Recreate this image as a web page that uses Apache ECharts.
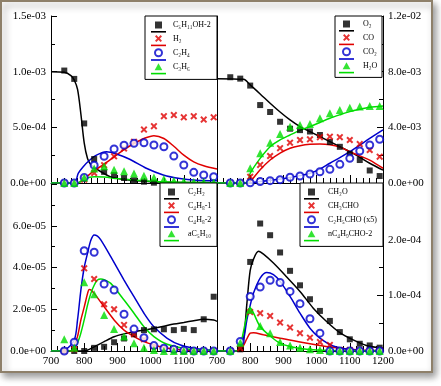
<!DOCTYPE html>
<html><head><meta charset="utf-8">
<script src="https://cdn.jsdelivr.net/npm/echarts@6/dist/echarts.min.js"></script>
<style>html,body{margin:0;padding:0;background:#fff}#c{width:441px;height:386px}</style>
</head><body><div id="c"></div>
<script>
// ---------- data ----------
const T_exp = [740,770,800,830,860,890,920,950,980,1010,1040,1070,1100,1130,1160,1190];
const xRange = [700, 1200];

// Panel A (top-left)
const A_C5_exp   = [1.01e-3,9.35e-4,5.35e-4,2.15e-4,1.0e-4,7.2e-5,4.5e-5,2.5e-5,1.2e-5,3e-6,null,null,null,null,null,null];
const A_H2_exp   = [0,0,3e-5,9e-5,1.6e-4,2.4e-4,3.1e-4,3.7e-4,4.8e-4,5.1e-4,6.0e-4,6.1e-4,5.9e-4,6.0e-4,5.7e-4,5.9e-4];
const A_C2H4_exp = [0,0,5e-5,1.6e-4,2.4e-4,3.05e-4,3.4e-4,3.56e-4,3.62e-4,3.41e-4,3.26e-4,2.42e-4,1.62e-4,9.6e-5,7.2e-5,5.7e-5];
const A_C3H6_exp = [0,0,5e-5,1.3e-4,1.5e-4,1.2e-4,1.05e-4,8.5e-5,6.5e-5,5e-5,3.5e-5,2e-5,1.5e-5,1e-5,1e-5,5e-6];
const A_C5_T     = [700,740,760,770,780,790,800,810,820,840,880,920,960,1000,1100,1200];
const A_C5_mod   = [1.0e-3,9.95e-4,9.65e-4,9.25e-4,8.4e-4,6.2e-4,3.6e-4,2.2e-4,1.65e-4,1.2e-4,5.5e-5,3.2e-5,2e-5,1.2e-5,5e-6,2e-6];
const A_H2_T     = [700,780,800,830,860,890,920,950,980,1010,1040,1070,1100,1130,1160,1200];
const A_H2_mod   = [0,0,4e-5,1.1e-4,1.7e-4,2.35e-4,3.0e-4,3.55e-4,4.0e-4,4.25e-4,4.0e-4,3.3e-4,2.5e-4,1.9e-4,1.55e-4,1.25e-4];
const A_C2H4_T   = [700,770,782,797,817,837,867,897,937,987,1038,1088,1138,1200];
const A_C2H4_mod = [0,0,8.7e-5,1.47e-4,2.07e-4,2.5e-4,2.8e-4,2.6e-4,2.13e-4,1.32e-4,7.2e-5,4e-5,2.5e-5,2e-5];
const A_C3H6_T   = [700,780,800,830,860,900,950,1000,1050,1100,1200];
const A_C3H6_mod = [0,0,3.5e-5,5.6e-5,5.3e-5,4e-5,2.7e-5,1.6e-5,9e-6,5e-6,2e-6];

// Panel B (top-right)
const B_O2_exp  = [7.6e-3,7.5e-3,7.0e-3,5.6e-3,5.1e-3,4.4e-3,3.9e-3,3.8e-3,3.7e-3,3.45e-3,2.95e-3,2.6e-3,2.1e-3,1.65e-3,0.9e-3,0.5e-3];
const B_CO_exp  = [0,0,4.5e-4,1.3e-3,1.94e-3,2.5e-3,2.9e-3,3.09e-3,3.14e-3,3.29e-3,3.33e-3,3.29e-3,3.09e-3,2.8e-3,2.37e-3,1.89e-3];
const B_CO2_exp = [0,0,2e-5,1e-4,1.7e-4,2.4e-4,4.1e-4,5e-4,6.5e-4,8.1e-4,9.8e-4,1.34e-3,1.77e-3,2.3e-3,2.73e-3,3.14e-3];
const B_H2O_exp = [0,0,1.06e-3,2.13e-3,2.9e-3,3.52e-3,4.05e-3,4.17e-3,4.24e-3,4.65e-3,5.01e-3,5.25e-3,5.41e-3,5.49e-3,5.54e-3,5.54e-3];
const B_O2_T    = [700,780,800,830,860,890,920,950,980,1010,1040,1070,1100,1130,1160,1200];
const B_O2_mod  = [7.5e-3,7.45e-3,7.05e-3,6.4e-3,5.73e-3,5.1e-3,4.53e-3,4.05e-3,3.69e-3,3.33e-3,2.97e-3,2.61e-3,2.25e-3,1.85e-3,1.42e-3,0.93e-3];
const B_CO_T    = [700,790,800,830,860,890,920,950,980,1010,1040,1070,1100,1130,1160,1200];
const B_CO_mod  = [0,0,1e-4,9.5e-4,1.65e-3,2.15e-3,2.5e-3,2.68e-3,2.78e-3,2.8e-3,2.75e-3,2.58e-3,2.25e-3,1.95e-3,1.65e-3,1.06e-3];
const B_CO2_T   = [700,790,830,880,920,950,980,1010,1040,1070,1100,1130,1160,1200];
const B_CO2_mod = [0,0,1e-4,2.5e-4,4e-4,5.3e-4,7e-4,1.0e-3,1.42e-3,1.82e-3,2.25e-3,2.72e-3,3.2e-3,3.81e-3];
const B_H2O_T   = [700,790,800,830,860,890,920,950,980,1010,1040,1070,1100,1130,1160,1200];
const B_H2O_mod = [0,0,7e-4,1.77e-3,2.61e-3,3.1e-3,3.45e-3,3.78e-3,4.05e-3,4.35e-3,4.65e-3,4.9e-3,5.13e-3,5.3e-3,5.44e-3,5.54e-3];

// Panel C (bottom-left)
const C_C2H2_exp  = [0,0,0,1.5e-6,2e-6,4.2e-6,6e-6,8e-6,1.0e-5,1.04e-5,1.04e-5,1.0e-5,1.06e-5,1.0e-5,1.52e-5,2.6e-5];
const C_C4H81_exp = [0,8e-7,3.96e-5,3.45e-5,2.24e-5,2.0e-5,1.25e-5,8.1e-6,5.6e-6,2.4e-6,1.3e-6,5e-7,0,0,0,0];
const C_C4H82_exp = [0,4.2e-6,4.8e-5,4.73e-5,3.21e-5,2.92e-5,1.76e-5,1.05e-5,6.4e-6,2.6e-6,1.3e-6,8e-7,3e-7,0,0,0];
const C_aC5_exp   = [5.6e-6,1.6e-6,3.29e-5,2.72e-5,1.72e-5,1.05e-5,6.9e-6,3.7e-6,1.6e-6,5e-7,0,0,0,0,0,0];
const C_C2H2_T    = [700,800,830,860,890,920,950,980,1010,1040,1070,1100,1130,1160,1190,1200];
const C_C2H2_mod  = [0,0,2e-6,4.5e-6,6.8e-6,8.2e-6,9.2e-6,1.0e-5,1.09e-5,1.19e-5,1.29e-5,1.37e-5,1.45e-5,1.52e-5,1.48e-5,1.42e-5];
const C_C4H81_T   = [700,760,770,780,790,800,810,815,820,830,860,890,920,950,980,1010,1040,1070,1100,1150,1200];
const C_C4H81_mod = [0,0,2.9e-6,7e-6,1.49e-5,2.1e-5,2.75e-5,2.95e-5,2.93e-5,2.76e-5,2.12e-5,1.49e-5,1.0e-5,6.9e-6,4.5e-6,2.9e-6,1.7e-6,1.0e-6,5e-7,2e-7,1e-7];
const C_C4H82_T   = [700,740,770,780,790,800,810,820,830,840,850,880,920,950,980,1010,1050,1090,1150,1200];
const C_C4H82_mod = [0,5e-7,5.3e-6,1.5e-5,2.92e-5,4.0e-5,4.68e-5,5.3e-5,5.56e-5,5.5e-5,5.32e-5,4.52e-5,3.4e-5,2.6e-5,1.81e-5,1.16e-5,6.1e-6,2.9e-6,8e-7,2e-7];
const C_aC5_T     = [700,760,770,785,800,810,820,830,840,850,860,880,920,950,980,1010,1050,1110,1200];
const C_aC5_mod   = [0,0,1e-6,6e-6,1.49e-5,2.2e-5,2.76e-5,3.15e-5,3.4e-5,3.45e-5,3.42e-5,3.24e-5,2.44e-5,1.81e-5,1.16e-5,6.9e-6,3.2e-6,1e-6,2e-7];

// Panel D (bottom-right)
const D_CH2O_exp   = [0,3e-6,1.6e-4,2.29e-4,2.08e-4,1.77e-4,1.44e-4,1.18e-4,9.3e-5,7.2e-5,5.4e-5,3.4e-5,2.1e-5,1.3e-5,1.0e-5,6e-6];
const D_CH3CHO_exp = [0,5e-6,7e-5,6.8e-5,6.3e-5,5.1e-5,4.2e-5,3.2e-5,2.4e-5,1.6e-5,1.1e-5,2e-6,2e-6,1e-6,1e-6,1e-6];
const D_C2H5_exp   = [0,1.7e-5,9.8e-5,1.15e-4,1.27e-4,1.23e-4,1.07e-4,8.5e-5,5.8e-5,3.2e-5,0,0,0,0,0,0];
const D_nC4_exp    = [0,1.5e-5,7.4e-5,4.5e-5,3.2e-5,1.6e-5,1.0e-5,6e-6,3e-6,2e-6,0,0,0,0,0,0];
const D_CH2O_T     = [700,760,770,780,790,800,810,825,840,870,910,950,990,1030,1070,1110,1150,1200];
const D_CH2O_mod   = [0,0,1e-6,2e-5,8.5e-5,1.45e-4,1.65e-4,1.79e-4,1.74e-4,1.58e-4,1.33e-4,1.07e-4,7.7e-5,5.3e-5,3.3e-5,2e-5,1e-5,5e-6];
const D_CH3CHO_T   = [700,770,780,790,800,810,840,890,950,1010,1070,1130,1200];
const D_CH3CHO_mod = [0,0,1e-5,2.2e-5,3.2e-5,3.3e-5,2.9e-5,2.3e-5,1.6e-5,1.0e-5,5e-6,2e-6,1e-6];
const D_C2H5_T     = [700,760,770,780,790,800,810,830,850,870,890,920,950,980,1010,1050,1110,1200];
const D_C2H5_mod   = [0,0,5e-6,2e-5,5.6e-5,8.2e-5,1.04e-4,1.31e-4,1.41e-4,1.37e-4,1.25e-4,9.8e-5,6.8e-5,4.1e-5,2.3e-5,9e-6,2e-6,0];
const D_nC4_T      = [700,760,770,785,795,800,810,830,860,890,920,970,1040,1200];
const D_nC4_mod    = [0,0,1e-5,5e-5,7.5e-5,7.7e-5,6.8e-5,4.4e-5,2.7e-5,1.4e-5,8e-6,3e-6,1e-6,0];

// axis ranges (min, max, interval)
const yA = [0, 1.5e-3, 5e-4];
const yB = [0, 1.2e-2, 4e-3];
const yC = [0, 8e-5, 2e-5];
const yD = [0, 3e-4, 1e-4];

// ---------- styling ----------
const FONT = '"Liberation Serif","DejaVu Serif",serif';
const BLACK = '#000000', RED = '#e00000', BLUE = '#0000cc', GREEN = '#00dd00';
const XPATH = 'path://M0,2L2,0L5,3L8,0L10,2L7,5L10,8L8,10L5,7L2,10L0,8L3,5Z';
const SYM = {
  sq:  {series:'rect', size:6, legend:'path://M0,0h10v10h-10z'},
  x:   {series:XPATH, size:7, legend:XPATH},
  ci:  {series:'emptyCircle', size:7, legend:'emptyCircle'},
  tri: {series:'triangle', size:8, legend:'path://M5,0L10,9L0,9Z'}
};
const LINE_ICON = 'path://M0,0h15v1.6h-15z';

function pairs(T, V){ const out=[]; T.forEach((t,i)=>{ if(V[i]!=null) out.push([t,V[i]]); }); return out; }
function fmtExp(v){
  const s = Number(v).toExponential(1);
  return s.replace(/e([+-])(\d+)$/, (m, sg, d) => 'e' + sg + (d.length < 2 ? '0' + d : d));
}

const panels = [
  {species:[
    {name:'C₅H₁₁OH-2', color:BLACK, sym:'sq',  exp:A_C5_exp,   T:A_C5_T,   mod:A_C5_mod},
    {name:'H₂',        color:RED,   sym:'x',   exp:A_H2_exp,   T:A_H2_T,   mod:A_H2_mod},
    {name:'C₂H₄',      color:BLUE,  sym:'ci',  exp:A_C2H4_exp, T:A_C2H4_T, mod:A_C2H4_mod},
    {name:'C₃H₆',      color:GREEN, sym:'tri', exp:A_C3H6_exp, T:A_C3H6_T, mod:A_C3H6_mod}],
   legend:{left:145, top:16, pad:[5,3,5,6], tp:2, w:41}},
  {species:[
    {name:'O₂',  color:BLACK, sym:'sq',  exp:B_O2_exp,  T:B_O2_T,  mod:B_O2_mod},
    {name:'CO',  color:RED,   sym:'x',   exp:B_CO_exp,  T:B_CO_T,  mod:B_CO_mod},
    {name:'CO₂', color:BLUE,  sym:'ci',  exp:B_CO2_exp, T:B_CO2_T, mod:B_CO2_mod},
    {name:'H₂O', color:GREEN, sym:'tri', exp:B_H2O_exp, T:B_H2O_T, mod:B_H2O_mod}],
   legend:{left:335, top:16, pad:[4,2,4,4], tp:4, w:17}},
  {species:[
    {name:'C₂H₂',   color:BLACK, sym:'sq',  exp:C_C2H2_exp,  T:C_C2H2_T,  mod:C_C2H2_mod},
    {name:'C₄H₈-1', color:RED,   sym:'x',   exp:C_C4H81_exp, T:C_C4H81_T, mod:C_C4H81_mod},
    {name:'C₄H₈-2', color:BLUE,  sym:'ci',  exp:C_C4H82_exp, T:C_C4H82_T, mod:C_C4H82_mod},
    {name:'aC₅H₁₀', color:GREEN, sym:'tri', exp:C_aC5_exp,   T:C_aC5_T,   mod:C_aC5_mod}],
   legend:{left:160, top:183, pad:[5,2,5,4], tp:4, w:27}},
  {species:[
    {name:'CH₂O',          color:BLACK, sym:'sq',  exp:D_CH2O_exp,   T:D_CH2O_T,   mod:D_CH2O_mod},
    {name:'CH₃CHO',        color:RED,   sym:'x',   exp:D_CH3CHO_exp, T:D_CH3CHO_T, mod:D_CH3CHO_mod},
    {name:'C₂H₅CHO (x5)',  color:BLUE,  sym:'ci',  exp:D_C2H5_exp,   T:D_C2H5_T,   mod:D_C2H5_mod},
    {name:'nC₄H₉CHO-2',    color:GREEN, sym:'tri', exp:D_nC4_exp,    T:D_nC4_T,    mod:D_nC4_mod}],
   legend:{left:300, top:183, pad:[5,3,5,4], tp:4, w:52}}
];

const grids = [
  {left:51,  top:16,  width:166, height:167},
  {left:217, top:16,  width:166, height:167},
  {left:51,  top:184, width:166, height:167},
  {left:217, top:184, width:166, height:167}
];

function xAx(gi, showLabel, hideMax){
  return {type:'value', gridIndex:gi, min:xRange[0], max:xRange[1], interval:100,
    axisLine:{show:true, onZero:false, lineStyle:{color:'#000', width:1}},
    axisTick:{show:true, inside:true, length:8, lineStyle:{color:'#000', width:1}},
    minorTick:{show:true, splitNumber:5, length:5, lineStyle:{color:'#000', width:1}},
    splitLine:{show:false}, minorSplitLine:{show:false},
    axisLabel:{show:showLabel, showMaxLabel: hideMax ? false : true, showMinLabel:true,
      formatter: v => String(Math.round(v)),
      color:'#000', fontFamily:FONT, fontSize:11, margin:5}};
}
function yAx(gi, pos, r, hideMax){
  return {type:'value', gridIndex:gi, position:pos, min:r[0], max:r[1], interval:r[2],
    axisLine:{show:true, onZero:false, lineStyle:{color:'#000', width:1}},
    axisTick:{show:true, inside:true, length:6, lineStyle:{color:'#000', width:1}},
    minorTick:{show:true, splitNumber:2, length:4, lineStyle:{color:'#000', width:1}},
    splitLine:{show:false}, minorSplitLine:{show:false},
    axisLabel:{show:true, showMaxLabel: hideMax ? false : true, formatter:fmtExp,
      color:'#000', fontFamily:FONT, fontSize:11, margin:5}};
}
function edgeAx(gi){
  return {type:'value', gridIndex:gi, position:'right', min:0, max:1,
    axisLine:{show:true, onZero:false, lineStyle:{color:'#000', width:1}},
    axisTick:{show:false}, axisLabel:{show:false}, splitLine:{show:false}};
}

const series = [];
const legends = [];
panels.forEach((p, i) => {
  const ldata = [];
  p.species.forEach(s => {
    const sy = SYM[s.sym];
    series.push({type:'scatter', name:s.name, xAxisIndex:i, yAxisIndex:i,
      data: pairs(T_exp, s.exp), symbol: sy.series, symbolSize: sy.size, z:3,
      color: s.color,
      itemStyle: s.sym === 'ci' ? {color:s.color, borderColor:s.color, borderWidth:1.5} : {color:s.color, borderWidth:0},
      emphasis:{disabled:true}});
    series.push({type:'line', name:s.name + ' model', xAxisIndex:i, yAxisIndex:i,
      data: pairs(s.T, s.mod), smooth:0.3, symbol:'none', z:2, color:s.color,
      lineStyle:{color:s.color, width:1.5}, emphasis:{disabled:true}});
    ldata.push({name:s.name, icon: sy.legend});
    ldata.push({name:s.name + ' model', icon: LINE_ICON, itemStyle:{borderWidth:0}});
  });
  const L = p.legend;
  legends.push({orient:'vertical', left:L.left, top:L.top, padding:L.pad,
    itemWidth:15, itemHeight:7, itemGap:2, selectedMode:false,
    backgroundColor:'#fff', borderColor:'#000', borderWidth:1, borderRadius:0,
    textStyle:{fontFamily:FONT, fontSize:8, color:'#000', lineHeight:7, width:L.w, overflow:'none', padding:[0,0,0,L.tp]},
    formatter: n => n.endsWith(' model') ? '' : n,
    data: ldata});
});

const option = {
  animation:false,
  textStyle:{fontFamily:FONT},
  graphic:[{type:'rect', z:0, silent:true,
    shape:{x:1, y:1, width:431, height:371},
    style:{fill:'#fff', stroke:'#8e806a', lineWidth:2, shadowBlur:7, shadowOffsetX:3, shadowOffsetY:4, shadowColor:'rgba(0,0,0,0.4)'}}],
  grid: grids,
  xAxis: [xAx(0,false,false), xAx(1,false,false), xAx(2,true,true), xAx(3,true,false)],
  yAxis: [yAx(0,'left',yA,false), yAx(1,'right',yB,false), yAx(2,'left',yC,true), yAx(3,'right',yD,true), edgeAx(0), edgeAx(2)],
  legend: legends,
  series: series
};
const chart = echarts.init(document.getElementById('c'), null, {renderer:'canvas'});
chart.setOption(option);
</script></body></html>
